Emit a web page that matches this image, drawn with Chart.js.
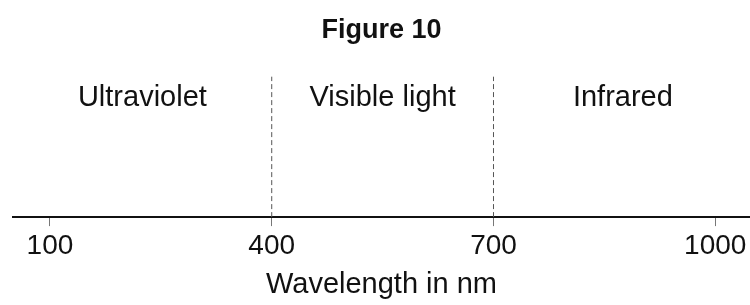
<!DOCTYPE html>
<html>
<head>
<meta charset="utf-8">
<script src="https://cdn.jsdelivr.net/npm/chart.js@4/dist/chart.umd.min.js"></script>
<style>
  html, body { margin: 0; padding: 0; background: #fff; }
  #wrap { width: 750px; height: 305px; }
</style>
</head>
<body>
<div id="wrap"><canvas id="chart"></canvas></div>
<script>
// axis values (nm)
const tickValues = [100, 400, 700, 1000];
const boundaries = [400, 700];
const regionNames = ['Ultraviolet', 'Visible light', 'Infrared'];
const regionCenters = [225, 550, 875];
const axisMin = 50;
const axisMax = 1047;
const labelLevel = 85;   // height of region names on the 0-100 y scale

const fontFamily = '"Liberation Sans", Arial, sans-serif';

// dashed boundary lines, one dataset each
const boundarySets = boundaries.map(v => ({
    type: 'line',
    data: [{ x: v, y: 0 }, { x: v, y: 100 }],
    borderColor: '#555',
    borderWidth: 1,
    borderDash: [5, 3],
    pointRadius: 0,
    fill: false
}));

const regionLabels = {
    id: 'regionLabels',
    afterDatasetsDraw(chart) {
        const { ctx, scales } = chart;
        ctx.save();
        ctx.font = '29px ' + fontFamily;
        ctx.fillStyle = '#111';
        ctx.textAlign = 'center';
        ctx.textBaseline = 'middle';
        regionNames.forEach((name, i) => {
            ctx.fillText(name, scales.x.getPixelForValue(regionCenters[i]), scales.y.getPixelForValue(labelLevel));
        });
        ctx.restore();
    }
};

new Chart(document.getElementById('chart'), {
    type: 'line',
    data: { datasets: boundarySets },
    plugins: [regionLabels],
    options: {
        responsive: true,
        maintainAspectRatio: false,
        animation: false,
        layout: { padding: { left: 13, right: 0, top: 0, bottom: 0 } },
        plugins: {
            legend: { display: false },
            tooltip: { enabled: false },
            title: {
                display: true,
                text: 'Figure 10',
                color: '#111',
                font: { family: fontFamily, size: 27, weight: 'bold' },
                padding: { top: 14, bottom: 30 }
            }
        },
        scales: {
            x: {
                type: 'linear',
                min: axisMin,
                max: axisMax,
                afterBuildTicks(scale) {
                    scale.ticks = tickValues.map(v => ({ value: v }));
                },
                border: { display: true, color: '#111', width: 2 },
                grid: { display: true, drawOnChartArea: false, drawTicks: true, tickLength: 9, color: '#777' },
                ticks: {
                    color: '#111',
                    padding: 3,
                    maxRotation: 0,
                    font: { family: fontFamily, size: 28 },
                    callback: v => String(v)
                },
                title: {
                    display: true,
                    text: 'Wavelength in nm',
                    color: '#111',
                    font: { family: fontFamily, size: 29 },
                    padding: { top: 2, bottom: 2.5 }
                }
            },
            y: {
                display: false,
                min: 0,
                max: 100
            }
        }
    }
});
</script>
</body>
</html>
